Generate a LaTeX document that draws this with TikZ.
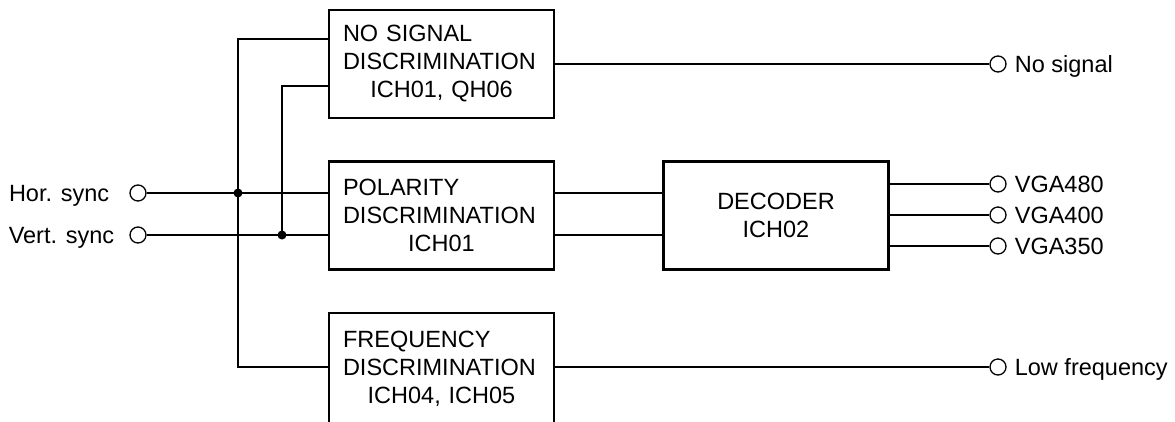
\documentclass[tikz,border=0pt]{standalone}
\usepackage{fontspec}
\setmainfont{Liberation Sans}
\usetikzlibrary{positioning}
\tikzstyle{block} = [rectangle, draw=black, line width=2.5pt, minimum width=225pt, minimum height=108pt, text width=197pt, align=left, inner sep=0pt, font=\fontsize{23.5}{28}\selectfont]
\tikzstyle{decblock} = [block, align=center]
\tikzstyle{term} = [circle, draw=black, line width=1.3pt, fill=white, minimum size=16pt, inner sep=0pt]
\tikzstyle{lbl} = [inner sep=0pt, text height=16.8pt, text depth=0pt, font=\fontsize{23.5}{28}\selectfont]
\tikzstyle{wire} = [line width=1.4pt]
\tikzstyle{dot} = [circle, fill=black, minimum size=9pt, inner sep=0pt]
\begin{document}
\begin{tikzpicture}[x=1pt, y=-1pt, node distance=151.5pt]
\useasboundingbox (0,0) rectangle (1175,421);
\node (nosig) [block] at (441.5,64) {NO SIGNAL\\DISCRIMINATION\\\makebox[197pt]{ICH01, QH06}};
\node (polarity) [block, below of=nosig] {POLARITY\\DISCRIMINATION\\\makebox[197pt]{ICH01}};
\node (frequency) [block, below of=polarity, yshift=-2pt, minimum height=112pt] {FREQUENCY\\DISCRIMINATION\\\makebox[197pt]{ICH04, ICH05}};
\node (decoder) [decblock, right of=polarity, xshift=183pt] {DECODER\\ICH02};
\node (hs) [term] at (138,193) {};
\node (vs) [term] at (138,235) {};
\node (hslbl) [lbl, left=20pt of hs] {Hor. sync};
\node (vslbl) [lbl, left=15pt of vs] {Vert. sync};
\node (nsout) [term] at (998,64) {};
\node (v480) [term] at (998,184) {};
\node (v400) [term] at (998,215) {};
\node (v350) [term] at (998,246) {};
\node (lfout) [term] at (998,367) {};
\node (nslbl) [lbl, right=8pt of nsout] {No signal};
\node (v480lbl) [lbl, right=8pt of v480] {VGA480};
\node (v400lbl) [lbl, right=8pt of v400] {VGA400};
\node (v350lbl) [lbl, right=8pt of v350] {VGA350};
\node (lflbl) [lbl, right=8pt of lfout] {Low frequency};
\coordinate (busa) at (238,0);
\coordinate (busb) at (282,0);
\coordinate (nsin1) at ([yshift=25pt]nosig.west);
\coordinate (nsin2) at ([yshift=-22pt]nosig.west);
\draw [wire] (hs) -- (hs -| polarity.west);
\draw [wire] (vs) -- (vs -| polarity.west);
\draw [wire] (nsin1) -| (busa |- lfout) -- (frequency.west |- lfout);
\draw [wire] (nsin2) -| (busb |- vs);
\node (ja) [dot] at (busa |- hs) {};
\node (jb) [dot] at (busb |- vs) {};
\draw [wire] (polarity.east |- hs) -- (decoder.west |- hs);
\draw [wire] (polarity.east |- vs) -- (decoder.west |- vs);
\draw [wire] (decoder.east |- v480) -- (v480);
\draw [wire] (decoder.east |- v400) -- (v400);
\draw [wire] (decoder.east |- v350) -- (v350);
\draw [wire] (nosig) -- (nsout);
\draw [wire] (frequency.east |- lfout) -- (lfout);
\end{tikzpicture}
\end{document}
